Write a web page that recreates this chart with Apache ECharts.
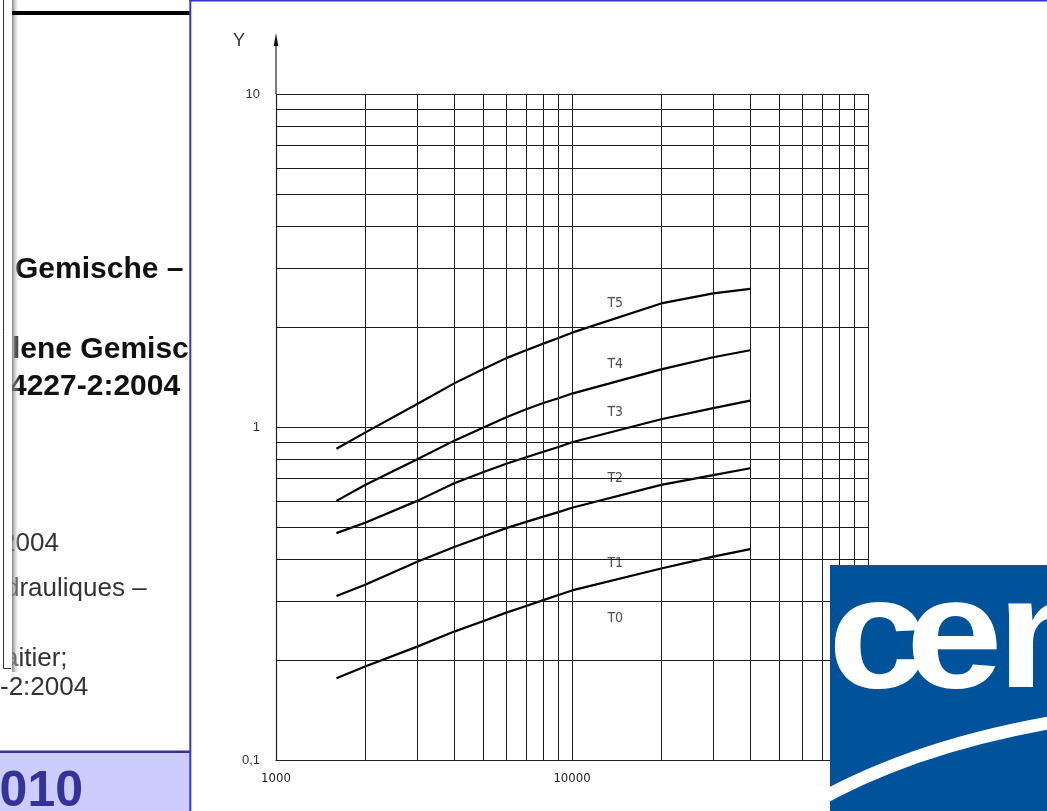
<!DOCTYPE html>
<html>
<head>
<meta charset="UTF-8">
<title>T classes</title>
<script src="https://cdn.jsdelivr.net/npm/echarts@6/dist/echarts.min.js"></script>
<style>
  html, body { margin: 0; padding: 0; background: #fff; }
  #main { width: 1047px; height: 811px; }
</style>
</head>
<body>
<div id="main"></div>
<script>
// x values where the curves were read (log axis)
var flowX = [1600, 2000, 3000, 4000, 5000, 6000, 7000, 8000, 9000, 10000, 20000, 30000, 40000];
// class boundaries, top to bottom
var lineT5 = [0.86, 0.962, 1.173, 1.352, 1.49, 1.61, 1.70, 1.78, 1.85, 1.92, 2.35, 2.52, 2.60];
var lineT4 = [0.60, 0.67, 0.80, 0.91, 0.995, 1.07, 1.13, 1.18, 1.22, 1.26, 1.49, 1.62, 1.70];
var lineT3 = [0.48, 0.516, 0.60, 0.678, 0.731, 0.776, 0.811, 0.843, 0.871, 0.90, 1.055, 1.14, 1.20];
var lineT2 = [0.311, 0.336, 0.394, 0.436, 0.469, 0.497, 0.519, 0.538, 0.555, 0.572, 0.670, 0.717, 0.752];
var lineT1 = [0.176, 0.191, 0.219, 0.243, 0.261, 0.277, 0.290, 0.302, 0.313, 0.323, 0.376, 0.408, 0.430];

// class names written in the zones
var tNames = ['T5', 'T4', 'T3', 'T2', 'T1', 'T0'];
var tX = [14000, 14000, 14000, 14000, 14000, 14000];
var tY = [2.35, 1.54, 1.105, 0.7, 0.39, 0.267];

// minor grid of the log paper
var xGrid = [2000, 3000, 4000, 5000, 6000, 7000, 8000, 9000, 20000, 30000, 40000, 50000, 60000, 70000, 80000, 90000];
var yGrid = [0.2, 0.3, 0.4, 0.5, 0.6, 0.7, 0.8, 0.9, 2, 3, 4, 5, 6, 7, 8, 9];

var chart = echarts.init(document.getElementById('main'));
var techFont = "'DejaVu Sans Condensed', 'DejaVu Sans', sans-serif";
var docFont = '"Liberation Sans", Arial, sans-serif';

function curve(name, ys) {
  return {
    name: name,
    type: 'line',
    z: 3,
    silent: true,
    showSymbol: false,
    smooth: false,
    data: flowX.map(function (x, i) { return [x, ys[i]]; }),
    lineStyle: { color: '#000', width: 2.2, join: 'round' }
  };
}

var gridMarks = [];
xGrid.forEach(function (v) { gridMarks.push({ xAxis: v }); });
yGrid.forEach(function (v) { gridMarks.push({ yAxis: v }); });

// slide decorations around the chart
var decor = [
  // left document panel
  { type: 'text', z: 100, style: { x: 15, y: 270, text: 'Gemische –', fill: '#111', font: 'bold 30px ' + docFont, verticalAlign: 'middle' } },
  { type: 'text', z: 100, style: { x: 12, y: 350, text: 'lene Gemisc', fill: '#111', font: 'bold 30px ' + docFont, verticalAlign: 'middle' } },
  { type: 'text', z: 100, style: { x: 10, y: 387, text: '4227-2:2004', fill: '#111', font: 'bold 30px ' + docFont, verticalAlign: 'middle' } },
  { type: 'text', z: 100, style: { x: 1, y: 544, text: '2004', fill: '#333', font: '26px ' + docFont, verticalAlign: 'middle' } },
  { type: 'text', z: 100, style: { x: 5, y: 589, text: 'drauliques –', fill: '#333', font: '26px ' + docFont, verticalAlign: 'middle' } },
  { type: 'text', z: 100, style: { x: 4, y: 659, text: 'aitier;', fill: '#333', font: '26px ' + docFont, verticalAlign: 'middle' } },
  { type: 'text', z: 100, style: { x: 0, y: 688, text: '-2:2004', fill: '#333', font: '26px ' + docFont, verticalAlign: 'middle' } },
  // small window on the left edge
  { type: 'rect', z: 101, shape: { x: 0, y: 0, width: 12, height: 668 }, style: { fill: '#fff' } },
  { type: 'rect', z: 101, shape: { x: 12, y: 0, width: 8, height: 672 },
    style: { fill: new echarts.graphic.LinearGradient(0, 0, 1, 0, [
      { offset: 0, color: 'rgba(110,110,110,0.85)' }, { offset: 1, color: 'rgba(255,255,255,0)' }]) } },
  { type: 'polyline', z: 102, shape: { points: [[3.5, 0], [3.5, 668.5], [11, 668.5]] }, style: { stroke: '#333', lineWidth: 1, fill: null } },
  { type: 'rect', z: 102, shape: { x: 12, y: 11, width: 178, height: 4 }, style: { fill: '#000' } },
  // footer band
  { type: 'rect', z: 100, shape: { x: 0, y: 752, width: 190, height: 59 }, style: { fill: '#ccccff' } },
  { type: 'rect', z: 101, shape: { x: 0, y: 750.5, width: 190, height: 2.5 }, style: { fill: '#333399' } },
  { type: 'text', z: 101, style: { x: 83, y: 792, text: '2010', fill: '#333399', font: 'bold 50px ' + docFont, align: 'right', verticalAlign: 'middle' } },
  // blue frame of the chart panel
  { type: 'rect', z: 102, shape: { x: 189.3, y: 0, width: 2, height: 811 }, style: { fill: '#3535c8' } },
  { type: 'rect', z: 102, shape: { x: 189.3, y: 0, width: 858, height: 1.5 }, style: { fill: '#3535c8' } },
  // CEN logo
  { type: 'rect', z: 110, shape: { x: 830, y: 565, width: 217, height: 246 }, style: { fill: '#00529b' } },
  { type: 'text', z: 111, x: 828, y: 643, scaleX: 1.12, style: { x: 0, y: 0, text: 'c', fill: '#fff', font: 'bold 158px ' + docFont, verticalAlign: 'middle' } },
  { type: 'text', z: 111, x: 906, y: 643, scaleX: 1.1, style: { x: 0, y: 0, text: 'e', fill: '#fff', font: 'bold 158px ' + docFont, verticalAlign: 'middle' } },
  { type: 'text', z: 111, x: 997, y: 643, scaleX: 1.1, style: { x: 0, y: 0, text: 'n', fill: '#fff', font: 'bold 158px ' + docFont, verticalAlign: 'middle' } },
  { type: 'bezierCurve', z: 111, shape: { x1: 800, y1: 811, cpx1: 905, cpy1: 747, x2: 1060, y2: 721 }, style: { stroke: '#fff', lineWidth: 13, fill: null } }
];

chart.setOption({
  animation: false,
  backgroundColor: '#fff',
  grid: { left: 276, right: 179, top: 94, bottom: 51, outerBoundsMode: 'none' },
  xAxis: {
    type: 'log',
    logBase: 10,
    min: 1000,
    max: 100000,
    axisLine: { show: true, lineStyle: { color: '#222', width: 1.2 } },
    axisTick: { show: false },
    axisLabel: {
      margin: 12,
      color: '#222',
      fontSize: 13,
      fontFamily: techFont,
      formatter: function (v) { return String(Math.round(v)); }
    },
    splitLine: { show: true, lineStyle: { color: '#222', width: 1 } }
  },
  yAxis: {
    type: 'log',
    logBase: 10,
    min: 0.1,
    max: 10,
    name: 'Y',
    nameLocation: 'end',
    nameGap: 44,
    nameTextStyle: { color: '#333', fontSize: 18, fontFamily: docFont, padding: [0, 74, 0, 0] },
    axisLine: { show: true, lineStyle: { color: '#222', width: 1.2 } },
    axisTick: { show: false },
    axisLabel: {
      margin: 16,
      color: '#333',
      fontSize: 13,
      fontFamily: docFont,
      formatter: function (v) { return String(parseFloat(v.toPrecision(6))).replace('.', ','); }
    },
    splitLine: { show: true, lineStyle: { color: '#222', width: 1 } }
  },
  series: [
    {
      name: 'grid',
      type: 'line',
      z: 1,
      silent: true,
      data: [],
      markLine: {
        silent: true,
        symbol: 'none',
        animation: false,
        label: { show: false },
        lineStyle: { type: 'solid', color: '#1a1a1a', width: 1 },
        emphasis: { disabled: true },
        data: gridMarks
      }
    },
    curve('T4/T5', lineT5),
    curve('T3/T4', lineT4),
    curve('T2/T3', lineT3),
    curve('T1/T2', lineT2),
    curve('T0/T1', lineT1),
    {
      name: 'classes',
      type: 'scatter',
      z: 4,
      silent: true,
      symbolSize: 0,
      data: tNames.map(function (n, i) { return { name: n, value: [tX[i], tY[i]] }; }),
      label: {
        show: true,
        position: 'inside',
        formatter: '{b}',
        color: '#222',
        fontSize: 14,
        fontFamily: techFont,
        backgroundColor: '#fff',
        padding: [1, 3]
      }
    }
  ],
  graphic: decor
});

// arrow head on the Y axis, placed from the axis' own pixel position
var axisTop = chart.convertToPixel({ gridIndex: 0 }, [1000, 10]);
if (axisTop && isFinite(axisTop[0])) {
  decor.push(
    { type: 'line', z: 50, shape: { x1: axisTop[0], y1: axisTop[1], x2: axisTop[0], y2: axisTop[1] - 50 }, style: { stroke: '#222', lineWidth: 1.2 } },
    { type: 'polygon', z: 50, shape: { points: [[axisTop[0], axisTop[1] - 61], [axisTop[0] - 2.3, axisTop[1] - 48], [axisTop[0] + 2.3, axisTop[1] - 48]] }, style: { fill: '#111' } }
  );
  chart.setOption({ graphic: decor });
}
</script>
</body>
</html>
